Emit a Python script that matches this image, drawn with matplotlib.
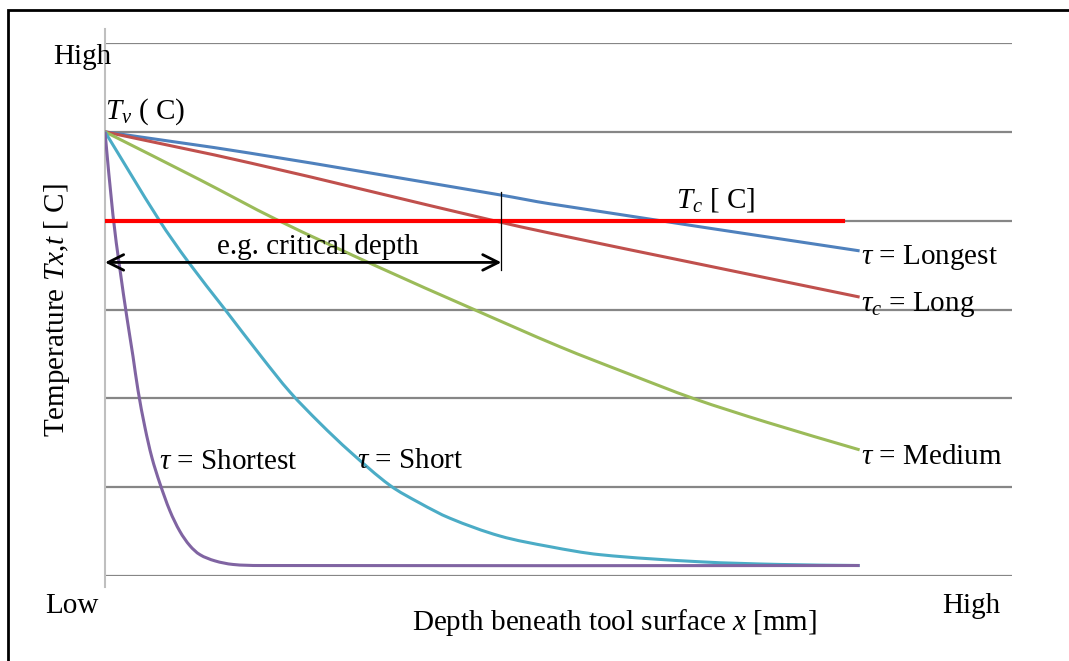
import matplotlib
matplotlib.use("Agg")
import numpy as np
import matplotlib.pyplot as plt
from matplotlib.patches import Rectangle, PathPatch
from matplotlib.path import Path

# depth (0 = surface, 100 = right end of the chart) and temperature (grid units, 0..6)
x_longest = [0, 16.0, 43.55, 49.06, 83.2]
y_longest = [5.0, 4.76, 4.29, 4.19, 3.66]

x_long = [0, 16.0, 42.45, 49.06, 65.6, 83.2]
y_long = [5.0, 4.65, 4.01, 3.86, 3.51, 3.14]

x_medium = [0, 10.47, 18.96, 30.32, 40.24, 50.17, 57.88, 64.83, 72.99, 83.2]
y_medium = [5.0, 4.46, 4.01, 3.47, 3.02, 2.58, 2.27, 2.0, 1.73, 1.42]

x_short = [0, 5.95, 9.15, 13.23, 17.31, 20.4, 23.7, 27.01, 31.42, 34.73, 38.04,
           43.55, 49.06, 54.58, 65.6, 74.42, 83.2]
y_short = [5.0, 4.01, 3.54, 3.0, 2.46, 2.07, 1.72, 1.40, 1.02, 0.82, 0.65,
           0.45, 0.33, 0.24, 0.16, 0.13, 0.118]

x_shortest = [0, 0.88, 1.65, 2.43, 3.09, 3.64, 4.41, 5.18, 6.06, 7.17, 8.27,
              9.37, 10.47, 12.13, 14.11, 17.09, 83.2]
y_shortest = [5.0, 4.06, 3.45, 2.90, 2.47, 2.09, 1.67, 1.33, 1.04, 0.73, 0.50,
              0.34, 0.24, 0.17, 0.13, 0.118, 0.118]

t_critical = 4.0
tc_end = 81.4
critical_depth = 43.7

series = [
    (x_longest, y_longest, "#4F81BD", r"$\tau$ = Longest"),
    (x_long, y_long, "#C0504D", r"$\tau_c$ = Long"),
    (x_medium, y_medium, "#9BBB59", r"$\tau$ = Medium"),
    (x_short, y_short, "#4BACC6", None),
    (x_shortest, y_shortest, "#8064A2", None),
]

plt.rcParams["font.family"] = ["Liberation Serif", "DejaVu Serif"]
plt.rcParams["mathtext.fontset"] = "custom"
plt.rcParams["mathtext.rm"] = "Liberation Serif"
plt.rcParams["mathtext.it"] = "Liberation Serif:italic"
FS = 21


def smooth_path(ax, xs, ys):
    # smoothed line through the points (like a spreadsheet "smoothed line"),
    # built as cubic Bezier segments in display space
    pts = ax.transData.transform(np.column_stack([xs, ys]))
    n = len(pts)
    tang = np.zeros_like(pts)
    for i in range(n):
        a = pts[max(i - 1, 0)]
        b = pts[min(i + 1, n - 1)]
        d = b - a
        tang[i] = d / (np.hypot(*d) or 1)
    verts = [pts[0]]
    codes = [Path.MOVETO]
    for i in range(n - 1):
        L = np.hypot(*(pts[i + 1] - pts[i])) / 3
        verts += [pts[i] + tang[i] * L, pts[i + 1] - tang[i + 1] * L, pts[i + 1]]
        codes += [Path.CURVE4] * 3
    inv = ax.transData.inverted()
    return Path(inv.transform(np.array(verts)), codes)


W, H = 1069, 661
fig = plt.figure(figsize=(W / 100, H / 100), dpi=100)

# outer frame (open on the right and bottom, as in the reference)
fig.patches.append(Rectangle((8 / W, -0.1), 1.2, (H - 10) / H + 0.1,
                             transform=fig.transFigure, fill=False,
                             edgecolor="black", linewidth=2))

ax = fig.add_axes([105 / W, (H - 576) / H, 907 / W, 533 / H])
ax.set_xlim(0, 100)
ax.set_ylim(0, 6)
for s in ax.spines.values():
    s.set_visible(False)
ax.set_xticks([])
ax.set_yticks([])
ax.patch.set_visible(False)

for g in range(7):
    ax.axhline(g, color="#868686", linewidth=1.6, zorder=1)
ax.plot([0, 0], [-0.12, 6.16], color="#BFBFBF", linewidth=1.5, clip_on=False, zorder=1)

for xs, ys, c, lab in series:
    ax.add_patch(PathPatch(smooth_path(ax, xs, ys), facecolor="none", edgecolor=c,
                           linewidth=2.2, zorder=3, capstyle="butt"))
    if lab:
        ax.text(xs[-1] + 0.2, ys[-1] - 0.08, lab, fontsize=FS, va="center", ha="left")

ax.plot([-0.3, tc_end], [t_critical, t_critical], color="#FF0000", linewidth=3, zorder=4)

# critical depth marker
ax.plot([critical_depth, critical_depth], [3.45, 4.32], color="black", linewidth=0.9, zorder=5)
ax.annotate("", xy=(0, 3.53), xytext=(critical_depth, 3.53),
            arrowprops=dict(arrowstyle="<->", color="black", lw=2,
                            mutation_scale=28, shrinkA=0, shrinkB=0), zorder=5)
ax.text(23.5, 3.53 + 0.03, "e.g. critical depth", fontsize=FS, ha="center", va="bottom", zorder=6)

ax.text(0, 5.06, r"$\mathit{T_v}$ ( C)", fontsize=FS, ha="left", va="bottom")
ax.text(63.0, 4.07, r"$\mathit{T_c}$ [ C]", fontsize=FS, ha="left", va="bottom")
ax.text(6.0, 1.28, r"$\tau$ = Shortest", fontsize=FS, ha="left", va="center")
ax.text(27.8, 1.29, r"$\tau$ = Short", fontsize=FS, ha="left", va="center")

fig.text(82 / W, 1 - 57 / H, "High", fontsize=FS, ha="center", va="center")
fig.text(72 / W, 1 - 606 / H, "Low", fontsize=FS, ha="center", va="center")
fig.text(971 / W, 1 - 606 / H, "High", fontsize=FS, ha="center", va="center")
fig.text(614 / W, 1 - 622 / H, r"Depth beneath tool surface $\mathit{x}$ [mm]",
         fontsize=FS, ha="center", va="center")
fig.text(57 / W, 1 - 310 / H, r"Temperature $\mathit{Tx}$,$\mathit{t}$ [ C]", fontsize=FS,
         ha="center", va="center", rotation=90)

fig.savefig("out.png", dpi=100)
